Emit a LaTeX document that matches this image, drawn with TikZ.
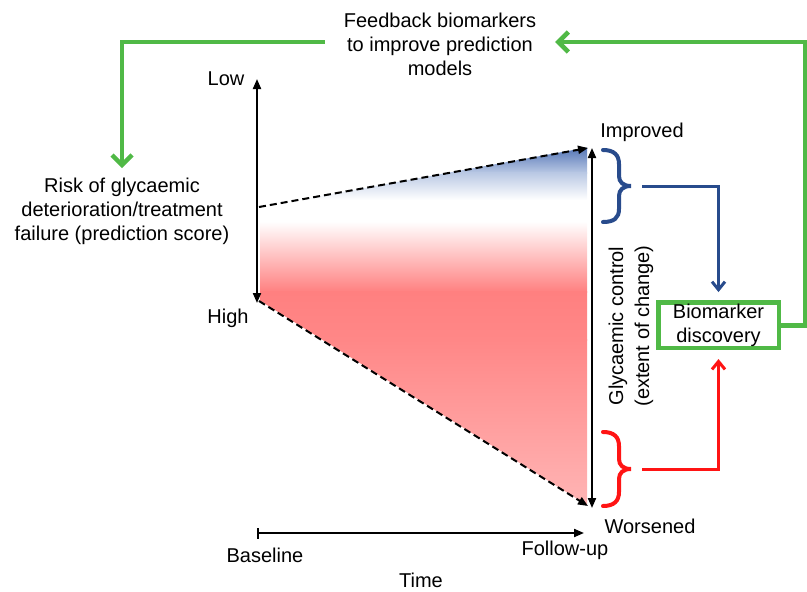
\documentclass[tikz,border=0pt]{standalone}
\usepackage{fontspec}
\setmainfont{Liberation Sans}
\usetikzlibrary{arrows.meta}
\definecolor{fgreen}{RGB}{80,185,70}
\definecolor{bblue}{RGB}{40,75,140}
\definecolor{bred}{RGB}{255,20,20}
\definecolor{gblue}{RGB}{75,110,178}
\definecolor{lblue}{RGB}{185,200,228}
\definecolor{gred}{RGB}{255,128,128}
\definecolor{gred2}{RGB}{255,135,135}
\definecolor{gpink}{RGB}{255,182,182}
\begin{document}
\begin{tikzpicture}[x=1pt,y=-1pt,font=\fontsize{20}{24}\selectfont,
  lbl/.style={inner sep=0pt, outer sep=0pt, align=center},
  blackarrow/.style={line width=2pt, -{Triangle[length=10pt,width=8pt]}},
  dblarrow/.style={line width=2pt, {Triangle[length=10pt,width=8pt]}-{Triangle[length=10pt,width=8pt]}},
  dasharrow/.style={line width=2pt, dash pattern=on 7pt off 4pt, -{Triangle[length=10pt,width=8pt]}},
  timeaxis/.style={line width=2pt, {Bar[width=11pt]}-{Triangle[length=10pt,width=8pt]}},
  garrow/.style={draw=fgreen, line width=4.5pt, -{Straight Barb[length=10pt,width=20pt]}},
  bracestyle/.style={line width=4pt, line cap=round},
  conn/.style={line width=3pt, -{Straight Barb[length=8pt,width=13pt]}},
  boxstyle/.style={draw=fgreen, line width=4.5pt, inner sep=0pt, outer sep=0pt,
    minimum width=120.5pt, minimum height=45.5pt, align=center}]
\useasboundingbox (0,0) rectangle (807,592);

% gradient wedge
\begin{scope}
\clip (260.5,207) -- (587,147.5) -- (587,505) -- (260.5,301) -- cycle;
\shade[top color=gblue,bottom color=lblue] (255,145) rectangle (590,173);
\shade[top color=lblue,bottom color=white] (255,172.5) rectangle (590,200);
\fill[white] (255,199.5) rectangle (590,222);
\shade[top color=white,bottom color=gred] (255,221.5) rectangle (590,292);
\shade[top color=gred,bottom color=gred2] (255,291.5) rectangle (590,340);
\shade[top color=gred2,bottom color=gpink] (255,339.5) rectangle (590,510);
\end{scope}

% coordinates
\coordinate (ltop) at (257,79);
\coordinate (lbot) at (257,303);
\coordinate (dtl) at (259,207);
\coordinate (dtr) at (588,148);
\coordinate (dbl) at (259,301);
\coordinate (dbr) at (588,506);
\coordinate (rtop) at (592,148);
\coordinate (rbot) at (592,508);
\coordinate (t0) at (257,533);
\coordinate (t1) at (584,533);
\coordinate (bstart) at (642,186);
\coordinate (rstart) at (642,469);
\coordinate (gtr) at (805,42);

% text nodes
\node[lbl] (fb) at (440,44) [inner xsep=19pt] {Feedback biomarkers\\to improve prediction\\models};
\node[lbl] (risk) at (122,211) {Risk of glycaemic\\deterioration/treatment\\failure (prediction score)};
\node[lbl, anchor=base] (low) at (226,85) {Low};
\node[lbl, anchor=base] (high) at (228,323) {High};
\node[lbl, anchor=base] (impr) at (642,137) {Improved};
\node[lbl, anchor=base] (wors) at (650,533) {Worsened};
\node[lbl, anchor=base] (base) at (265,562) {Baseline};
\node[lbl, anchor=base] (fup) at (565,555) {Follow-up};
\node[lbl, anchor=base] (time) at (421,587) {Time};
\node[lbl, rotate=90] (gc) at (631,326) {Glycaemic control\\[2pt](extent of change)};
\node[boxstyle] (box) at (718.5,325.3) {Biomarker\\discovery};

% axes and dashed arrows
\draw[dblarrow] (ltop) -- (lbot);
\draw[dblarrow] (rtop) -- (rbot);
\draw[dasharrow] (dtl) -- (dtr);
\draw[dasharrow] (dbl) -- (dbr);
\draw[timeaxis] (t0) -- (t1);

% braces
\draw[bracestyle, bblue] (603,150) .. controls (614,150) and (619,155) .. (619,164) -- (619,176)
  .. controls (619,182) and (623,186) .. (631,186)
  .. controls (623,186) and (619,190) .. (619,196) -- (619,209)
  .. controls (619,218) and (614,222) .. (603,222);
\draw[bracestyle, bred] (603,432) .. controls (614,432) and (619,437) .. (619,446) -- (619,459)
  .. controls (619,465) and (623,469) .. (631,469)
  .. controls (623,469) and (619,473) .. (619,479) -- (619,492)
  .. controls (619,501) and (614,506) .. (603,506);

% connectors
\draw[conn, bblue, shorten >=10.5pt] (bstart) -| (box.north);
\draw[conn, bred, shorten >=11pt] (rstart) -| (box.south);
\draw[garrow] (box.east) -| (gtr) -- ([yshift=2pt]fb.east);
\draw[garrow, shorten >=9.5pt] ([yshift=2pt]fb.west) -| (risk.north);
\end{tikzpicture}
\end{document}
